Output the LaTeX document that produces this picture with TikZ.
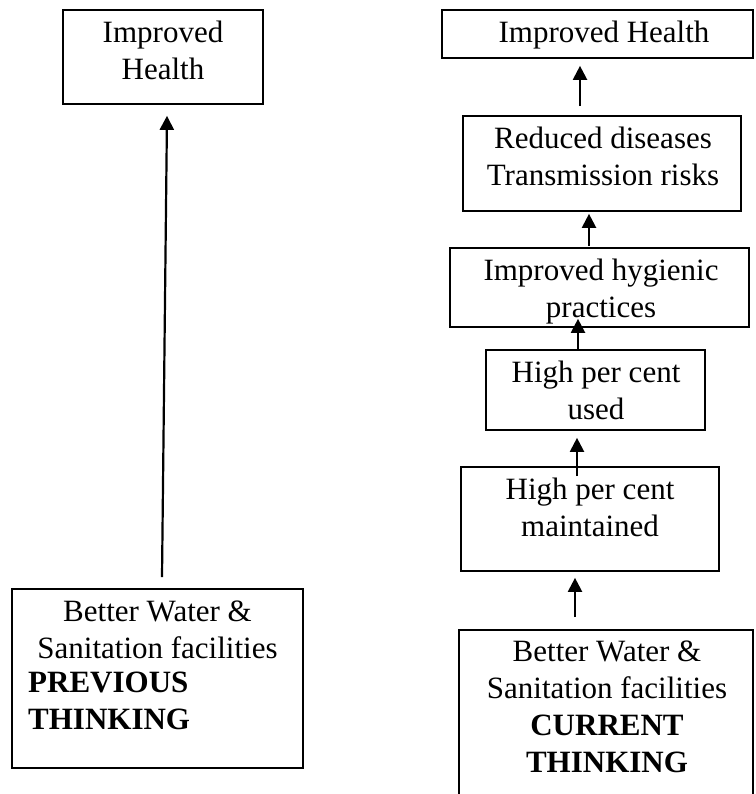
\documentclass[tikz,border=0pt]{standalone}
\usepackage{fontspec}
\setmainfont{Liberation Serif}
\usetikzlibrary{arrows.meta}
\begin{document}
\begin{tikzpicture}[x=1pt,y=-1pt,
  box/.style={draw, line width=1.7pt, rectangle, inner sep=0pt},
  txt/.style={font=\fontsize{31}{37}\selectfont, align=center, inner sep=0pt, anchor=north,
    execute at begin node=\strut, execute at end node=\strut},
  arr/.style={line width=2.2pt, -{Triangle[width=14pt,length=14pt]}}]
\useasboundingbox (0,0) rectangle (755,794);
\clip (0,0) rectangle (755,794);
% left column
\node[box, minimum width=200pt, minimum height=94pt] (lt) at (163,57) {};
\node[box, minimum width=291pt, minimum height=179pt] (lb) at (157.5,678.5) {};
% right column
\node[box, minimum width=311pt, minimum height=48pt] (rh) at (597.5,34) {};
\node[box, minimum width=278pt, minimum height=95pt] (rd) at (602,163.5) {};
\node[box, minimum width=299pt, minimum height=79pt] (ih) at (599.5,287.5) {};
\node[box, minimum width=219pt, minimum height=80pt] (hu) at (595.5,390) {};
\node[box, minimum width=258pt, minimum height=104pt] (hm) at (590,519) {};
\node[box, minimum width=294pt, minimum height=190pt] (br) at (606,725) {};
% texts
\node[txt] (t1) at (163,21.1) {Improved\\Health};
\node[txt] (t2) at (604,16.1) {Improved Health};
\node[txt] (t3) at (603,127.1) {Reduced diseases\\Transmission risks};
\node[txt] (t4) at (601,259.1) {Improved hygienic\\practices};
\node[txt] (t5) at (596,361.1) {High per cent\\used};
\node[txt] (t6) at (590,478.1) {High per cent\\maintained};
\node[txt] (t7) at (607,641.1) {Better Water \&\\Sanitation facilities\\\textbf{CURRENT}\\\textbf{THINKING}};
\node[txt] (t8) at (157.5,601.1) {Better Water \&\\Sanitation facilities};
\node[txt, anchor=north west, align=left] (t9) at (28,672.1) {\textbf{PREVIOUS}\\\textbf{THINKING}};
% arrows
\draw[arr] ([xshift=4.5pt,yshift=11pt]lb.north) -- ([xshift=4pt,yshift=-11pt]lt.south);
\draw[arr] ([xshift=-22pt,yshift=9pt]rd.north) -- ([xshift=-17.5pt,yshift=-7pt]rh.south);
\draw[arr] ([xshift=-10.5pt,yshift=1pt]ih.north) -- ([xshift=-13pt,yshift=-2pt]rd.south);
\draw[arr] ([xshift=-17.5pt]hu.north) -- ([xshift=-21.5pt,yshift=9pt]ih.south);
\draw[arr] ([xshift=-13pt,yshift=-10pt]hm.north) -- ([xshift=-18.5pt,yshift=-7pt]hu.south);
\draw[arr] ([xshift=-31pt,yshift=12pt]br.north) -- ([xshift=-15pt,yshift=-6pt]hm.south);
\end{tikzpicture}
\end{document}
